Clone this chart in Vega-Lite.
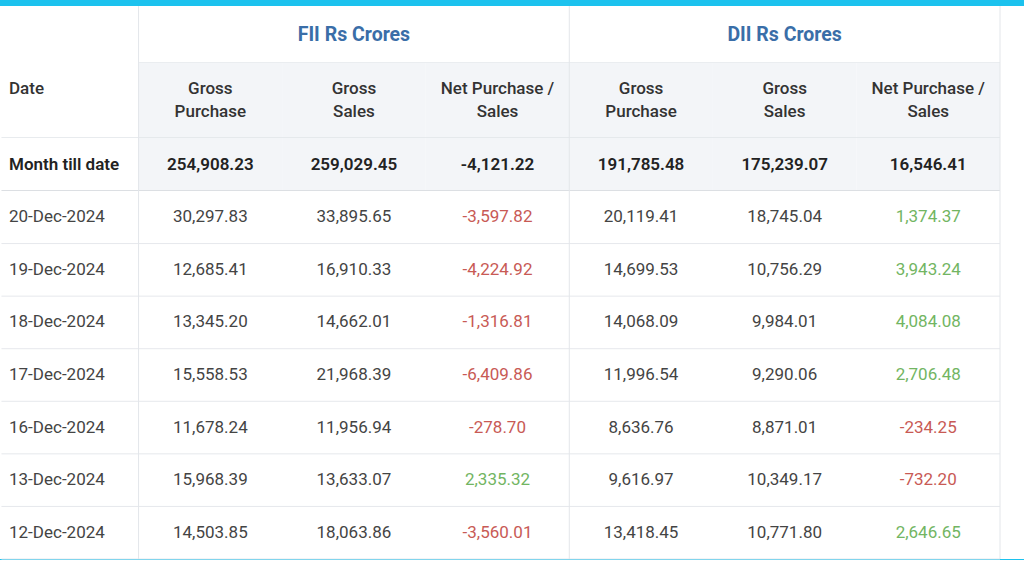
{
  "$schema": "https://vega.github.io/schema/vega-lite/v6.json",
  "background": "#1cc2ee",
  "padding": {"top": 5, "left": 0, "right": 0, "bottom": 0},
  "spacing": 0,
  "bounds": "flush",
  "config": {
    "view": {"stroke": null, "fill": "#ffffff"},
    "text": {"font": "Roboto"},
    "locale": {"number": {"decimal": ".", "thousands": ",", "grouping": [3], "currency": ["", ""], "minus": "-"}}
  },
  "datasets": {
    "mtd": [
      {"row": "m", "Date": "Month till date", "FII_GP": 254908.23, "FII_GS": 259029.45, "FII_NET": -4121.22, "DII_GP": 191785.48, "DII_GS": 175239.07, "DII_NET": 16546.41}
    ],
    "days": [
      {"Date": "20-Dec-2024", "FII_GP": 30297.83, "FII_GS": 33895.65, "FII_NET": -3597.82, "DII_GP": 20119.41, "DII_GS": 18745.04, "DII_NET": 1374.37},
      {"Date": "19-Dec-2024", "FII_GP": 12685.41, "FII_GS": 16910.33, "FII_NET": -4224.92, "DII_GP": 14699.53, "DII_GS": 10756.29, "DII_NET": 3943.24},
      {"Date": "18-Dec-2024", "FII_GP": 13345.20, "FII_GS": 14662.01, "FII_NET": -1316.81, "DII_GP": 14068.09, "DII_GS": 9984.01, "DII_NET": 4084.08},
      {"Date": "17-Dec-2024", "FII_GP": 15558.53, "FII_GS": 21968.39, "FII_NET": -6409.86, "DII_GP": 11996.54, "DII_GS": 9290.06, "DII_NET": 2706.48},
      {"Date": "16-Dec-2024", "FII_GP": 11678.24, "FII_GS": 11956.94, "FII_NET": -278.70, "DII_GP": 8636.76, "DII_GS": 8871.01, "DII_NET": -234.25},
      {"Date": "13-Dec-2024", "FII_GP": 15968.39, "FII_GS": 13633.07, "FII_NET": 2335.32, "DII_GP": 9616.97, "DII_GS": 10349.17, "DII_NET": -732.20},
      {"Date": "12-Dec-2024", "FII_GP": 14503.85, "FII_GS": 18063.86, "FII_NET": -3560.01, "DII_GP": 13418.45, "DII_GS": 10771.80, "DII_NET": 2646.65}
    ]
  },
  "vconcat": [
    {
      "width": 1024,
      "height": 57,
      "data": {"values": [
        {"row": "g", "col": "FII_GS", "title": "FII Rs Crores"},
        {"row": "g", "col": "DII_GS", "title": "DII Rs Crores"}
      ]},
      "layer": [
        {
          "mark": {"type": "rule", "color": "#e3e6ea", "strokeWidth": 1},
          "encoding": {
            "y": {"field": "row", "type": "nominal", "bandPosition": 1, "scale": {"type": "band", "paddingInner": 0, "paddingOuter": 0}, "axis": null},
            "x": {"datum": "FII_GP", "type": "nominal", "bandPosition": 0, "scale": {"type": "band", "domain": ["Date", "FII_GP", "FII_GS", "FII_NET", "DII_GP", "DII_GS", "DII_NET"], "range": [-5, 1000], "paddingInner": 0, "paddingOuter": 0}, "axis": null},
            "x2": {"datum": "DII_NET", "bandPosition": 1}
          }
        },
        {
          "data": {"values": [{"c": "FII_GP"}, {"c": "DII_GP"}]},
          "mark": {"type": "rule", "color": "#e3e6ea", "strokeWidth": 1},
          "encoding": {"x": {"field": "c", "type": "nominal", "bandPosition": 0, "axis": null}}
        },
        {
          "data": {"values": [{}]},
          "mark": {"type": "rule", "color": "#e3e6ea", "strokeWidth": 1},
          "encoding": {"x": {"datum": "DII_NET", "type": "nominal", "bandPosition": 1, "axis": null}}
        },
        {
          "mark": {"type": "text", "fontSize": 19.5, "fontWeight": "bold", "color": "#3a6ea8", "align": "center", "baseline": "middle"},
          "encoding": {
            "x": {"field": "col", "type": "nominal", "axis": null},
            "y": {"field": "row", "type": "nominal", "axis": null},
            "text": {"field": "title"}
          }
        }
      ]
    },
    {
      "width": 1024,
      "height": 75,
      "data": {"values": [
        {"row": "h", "key": "Date", "label": "Date"},
        {"row": "h", "key": "FII_GP", "label": "Gross\nPurchase"},
        {"row": "h", "key": "FII_GS", "label": "Gross\nSales"},
        {"row": "h", "key": "FII_NET", "label": "Net Purchase /\nSales"},
        {"row": "h", "key": "DII_GP", "label": "Gross\nPurchase"},
        {"row": "h", "key": "DII_GS", "label": "Gross\nSales"},
        {"row": "h", "key": "DII_NET", "label": "Net Purchase /\nSales"}
      ]},
      "layer": [
        {
          "transform": [{"filter": "datum.key !== 'Date'"}],
          "mark": {"type": "rect", "color": "#f3f5f8"},
          "encoding": {
            "x": {"field": "key", "type": "nominal", "scale": {"type": "band", "domain": ["Date", "FII_GP", "FII_GS", "FII_NET", "DII_GP", "DII_GS", "DII_NET"], "range": [-5, 1000], "paddingInner": 0, "paddingOuter": 0}, "axis": null},
            "y": {"field": "row", "type": "nominal", "scale": {"type": "band", "paddingInner": 0, "paddingOuter": 0}, "axis": null}
          }
        },
        {
          "data": {"values": [{"row": "h"}]},
          "mark": {"type": "rule", "color": "#e1e4e8", "strokeWidth": 1.5},
          "encoding": {
            "y": {"field": "row", "type": "nominal", "bandPosition": 1, "axis": null},
            "x": {"datum": "Date", "type": "nominal", "bandPosition": 0.045, "axis": null},
            "x2": {"datum": "DII_NET", "bandPosition": 1}
          }
        },
        {
          "data": {"values": [{"c": "FII_GP"}, {"c": "DII_GP"}]},
          "mark": {"type": "rule", "color": "#e3e6ea", "strokeWidth": 1},
          "encoding": {"x": {"field": "c", "type": "nominal", "bandPosition": 0, "axis": null}}
        },
        {
          "data": {"values": [{}]},
          "mark": {"type": "rule", "color": "#e3e6ea", "strokeWidth": 1},
          "encoding": {"x": {"datum": "DII_NET", "type": "nominal", "bandPosition": 1, "axis": null}}
        },
        {
          "transform": [{"filter": "datum.key !== 'Date'"}],
          "mark": {"type": "text", "fontSize": 17, "fontWeight": 500, "color": "#333333", "align": "center", "baseline": "middle", "lineBreak": "\n", "lineHeight": 23, "dy": -11.5},
          "encoding": {
            "x": {"field": "key", "type": "nominal", "axis": null},
            "y": {"field": "row", "type": "nominal", "axis": null},
            "text": {"field": "label"}
          }
        },
        {
          "transform": [{"filter": "datum.key === 'Date'"}],
          "mark": {"type": "text", "fontSize": 17, "fontWeight": 500, "color": "#333333", "align": "left", "baseline": "middle", "dx": 14, "dy": -11.5},
          "encoding": {
            "x": {"field": "key", "type": "nominal", "bandPosition": 0, "axis": null},
            "y": {"field": "row", "type": "nominal", "axis": null},
            "text": {"field": "label"}
          }
        }
      ]
    },
    {
      "width": 1024,
      "height": 53,
      "data": {"name": "mtd"},
      "layer": [
        {
          "transform": [{"fold": ["FII_GP", "FII_GS", "FII_NET", "DII_GP", "DII_GS", "DII_NET"]}],
          "mark": {"type": "rect", "color": "#f3f5f8"},
          "encoding": {
            "x": {"field": "key", "type": "nominal", "scale": {"type": "band", "domain": ["Date", "FII_GP", "FII_GS", "FII_NET", "DII_GP", "DII_GS", "DII_NET"], "range": [-5, 1000], "paddingInner": 0, "paddingOuter": 0}, "axis": null},
            "y": {"field": "row", "type": "nominal", "scale": {"type": "band", "paddingInner": 0, "paddingOuter": 0}, "axis": null}
          }
        },
        {
          "mark": {"type": "rule", "color": "#dcdfe3", "strokeWidth": 2},
          "encoding": {
            "y": {"field": "row", "type": "nominal", "bandPosition": 1, "axis": null},
            "x": {"datum": "Date", "type": "nominal", "bandPosition": 0.045, "axis": null},
            "x2": {"datum": "DII_NET", "bandPosition": 1}
          }
        },
        {
          "data": {"values": [{"c": "FII_GP"}, {"c": "DII_GP"}]},
          "mark": {"type": "rule", "color": "#e3e6ea", "strokeWidth": 1},
          "encoding": {"x": {"field": "c", "type": "nominal", "bandPosition": 0, "axis": null}}
        },
        {
          "data": {"values": [{}]},
          "mark": {"type": "rule", "color": "#e3e6ea", "strokeWidth": 1},
          "encoding": {"x": {"datum": "DII_NET", "type": "nominal", "bandPosition": 1, "axis": null}}
        },
        {
          "mark": {"type": "text", "fontSize": 17, "fontWeight": 600, "color": "#222222", "align": "left", "baseline": "middle", "dx": 14},
          "encoding": {
            "x": {"datum": "Date", "type": "nominal", "bandPosition": 0, "axis": null},
            "y": {"field": "row", "type": "nominal", "axis": null},
            "text": {"field": "Date"}
          }
        },
        {
          "transform": [{"fold": ["FII_GP", "FII_GS", "FII_NET", "DII_GP", "DII_GS", "DII_NET"]}],
          "mark": {"type": "text", "fontSize": 17, "fontWeight": 600, "color": "#222222", "align": "center", "baseline": "middle"},
          "encoding": {
            "x": {"field": "key", "type": "nominal", "axis": null},
            "y": {"field": "row", "type": "nominal", "axis": null},
            "text": {"field": "value", "type": "quantitative", "format": ",.2f"}
          }
        }
      ]
    },
    {
      "width": 1024,
      "height": 368,
      "data": {"name": "days"},
      "layer": [
        {
          "mark": {"type": "rule", "color": "#e6e8ec", "strokeWidth": 1},
          "encoding": {
            "y": {"field": "Date", "type": "nominal", "sort": null, "bandPosition": 1, "scale": {"type": "band", "paddingInner": 0, "paddingOuter": 0}, "axis": null},
            "x": {"datum": "Date", "type": "nominal", "bandPosition": 0.045, "scale": {"type": "band", "domain": ["Date", "FII_GP", "FII_GS", "FII_NET", "DII_GP", "DII_GS", "DII_NET"], "range": [-5, 1000], "paddingInner": 0, "paddingOuter": 0}, "axis": null},
            "x2": {"datum": "DII_NET", "bandPosition": 1}
          }
        },
        {
          "data": {"values": [{"c": "FII_GP"}, {"c": "DII_GP"}]},
          "mark": {"type": "rule", "color": "#e3e6ea", "strokeWidth": 1},
          "encoding": {"x": {"field": "c", "type": "nominal", "bandPosition": 0, "axis": null}}
        },
        {
          "data": {"values": [{}]},
          "mark": {"type": "rule", "color": "#e3e6ea", "strokeWidth": 1},
          "encoding": {"x": {"datum": "DII_NET", "type": "nominal", "bandPosition": 1, "axis": null}}
        },
        {
          "mark": {"type": "text", "fontSize": 17, "color": "#444444", "align": "left", "baseline": "middle", "dx": 14},
          "encoding": {
            "x": {"datum": "Date", "type": "nominal", "bandPosition": 0, "axis": null},
            "y": {"field": "Date", "type": "nominal", "sort": null, "axis": null},
            "text": {"field": "Date"}
          }
        },
        {
          "transform": [{"fold": ["FII_GP", "FII_GS", "FII_NET", "DII_GP", "DII_GS", "DII_NET"]}],
          "mark": {"type": "text", "fontSize": 17, "align": "center", "baseline": "middle"},
          "encoding": {
            "x": {"field": "key", "type": "nominal", "axis": null},
            "y": {"field": "Date", "type": "nominal", "sort": null, "axis": null},
            "text": {"field": "value", "type": "quantitative", "format": ",.2f"},
            "color": {
              "condition": [
                {"test": "(datum.key === 'FII_NET' || datum.key === 'DII_NET') && datum.value < 0", "value": "#c85a55"},
                {"test": "(datum.key === 'FII_NET' || datum.key === 'DII_NET') && datum.value >= 0", "value": "#72b562"}
              ],
              "value": "#444444"
            }
          }
        }
      ]
    }
  ]
}
